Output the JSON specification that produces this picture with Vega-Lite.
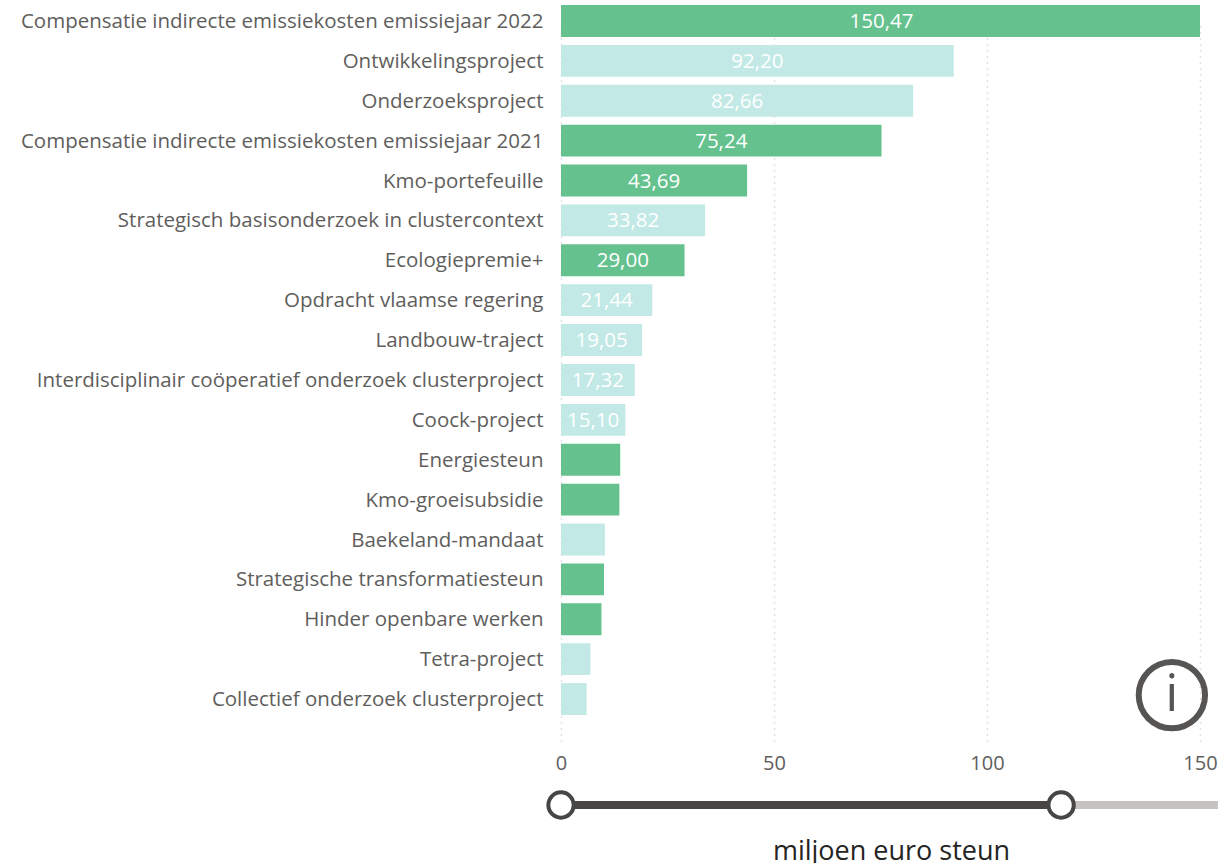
{
"$schema":"https://vega.github.io/schema/vega-lite/v6.json",
"autosize":"none",
"padding":{"left":561,"top":1,"right":18,"bottom":122},
"width":639,"height":740,
"background":"white",
"config":{"view":{"stroke":null},"font":"Open Sans"},
"datasets":{
"rows":[
{"name":"Compensatie indirecte emissiekosten emissiejaar 2022","waarde":150.47,"groep":"A","label":"150,47"},
{"name":"Ontwikkelingsproject","waarde":92.2,"groep":"B","label":"92,20"},
{"name":"Onderzoeksproject","waarde":82.66,"groep":"B","label":"82,66"},
{"name":"Compensatie indirecte emissiekosten emissiejaar 2021","waarde":75.24,"groep":"A","label":"75,24"},
{"name":"Kmo-portefeuille","waarde":43.69,"groep":"A","label":"43,69"},
{"name":"Strategisch basisonderzoek in clustercontext","waarde":33.82,"groep":"B","label":"33,82"},
{"name":"Ecologiepremie+","waarde":29.0,"groep":"A","label":"29,00"},
{"name":"Opdracht vlaamse regering","waarde":21.44,"groep":"B","label":"21,44"},
{"name":"Landbouw-traject","waarde":19.05,"groep":"B","label":"19,05"},
{"name":"Interdisciplinair coöperatief onderzoek clusterproject","waarde":17.32,"groep":"B","label":"17,32"},
{"name":"Coock-project","waarde":15.1,"groep":"B","label":"15,10"},
{"name":"Energiesteun","waarde":13.9,"groep":"A","label":""},
{"name":"Kmo-groeisubsidie","waarde":13.7,"groep":"A","label":""},
{"name":"Baekeland-mandaat","waarde":10.3,"groep":"B","label":""},
{"name":"Strategische transformatiesteun","waarde":10.1,"groep":"A","label":""},
{"name":"Hinder openbare werken","waarde":9.5,"groep":"A","label":""},
{"name":"Tetra-project","waarde":6.9,"groep":"B","label":""},
{"name":"Collectief onderzoek clusterproject","waarde":6.0,"groep":"B","label":""}
],
"slider":[
{"van":0,"tot":117.4,"deel":"actief"},
{"van":117.4,"tot":154.2,"deel":"rest"}
],
"handles":[{"pos":0},{"pos":117.4}],
"info":[{"name":"Collectief onderzoek clusterproject","pos":143.4,"teken":"i"}]
},
"layer":[
{"layer":[
{"data":{"name":"rows"},
"mark":{"type":"bar","cornerRadius":0,"clip":true},
"encoding":{
"y":{"field":"name","type":"nominal","sort":null,
"scale":{"range":[0,718],"paddingInner":0.2,"paddingOuter":0.1},
"axis":{"title":null,"ticks":false,"domain":false,"grid":false,"labelPadding":18,"labelLimit":560,"labelFontSize":20.5,"labelColor":"#605e5c","labelFont":"Open Sans","labelOffset":1}},
"x":{"field":"waarde","type":"quantitative",
"scale":{"domain":[0,150],"nice":false},
"axis":{"values":[0,50,100,150],"title":"miljoen euro steun","titleFontSize":27,"titleFontWeight":"normal","titleColor":"#252423","titleX":330,"titleY":97,"titleFont":"Open Sans","labelFontSize":20,"labelColor":"#605e5c","labelPadding":12,"ticks":false,"domain":false,"grid":true,"gridColor":"#c8c6c4","gridDash":[1,5],"gridWidth":1.5,"labelFlush":false,"labelFont":"Open Sans"}},
"color":{"field":"groep","type":"nominal","legend":null,"scale":{"domain":["A","B"],"range":["#65c28f","#c2e9e5"]}}
}},
{"data":{"name":"rows"},
"mark":{"type":"text","color":"white","fontSize":20.5,"align":"center","baseline":"middle","yOffset":1,"xOffset":{"expr":"-width*datum.waarde/150/2"}},
"encoding":{
"y":{"field":"name","type":"nominal","sort":null},
"x":{"field":"waarde","type":"quantitative"},
"text":{"field":"label","type":"nominal"}
}},
{"data":{"name":"info"},
"mark":{"type":"point","filled":false,"color":"#565553","strokeWidth":6,"size":4400,"yOffset":-4,"opacity":1},
"encoding":{
"y":{"field":"name","type":"nominal","sort":null},
"x":{"field":"pos","type":"quantitative"}
}},
{"data":{"name":"info"},
"mark":{"type":"text","color":"#565553","fontSize":52,"align":"center","baseline":"middle","yOffset":-4,"font":"Open Sans"},
"encoding":{
"y":{"field":"name","type":"nominal","sort":null},
"x":{"field":"pos","type":"quantitative"},
"text":{"field":"teken","type":"nominal"}
}}
]},
{"layer":[
{"data":{"name":"slider"},
"mark":{"type":"rule","strokeWidth":8},
"encoding":{
"x":{"field":"van","type":"quantitative"},
"x2":{"field":"tot"},
"y":{"datum":0,"type":"quantitative","scale":{"domain":[0,1],"range":[804,804]},"axis":null},
"color":{"field":"deel","type":"nominal","legend":null,"scale":{"domain":["actief","rest"],"range":["#474645","#c4c3c1"]}}
}},
{"data":{"name":"handles"},
"mark":{"type":"point","filled":true,"fill":"white","stroke":"#474645","strokeWidth":4,"size":640,"opacity":1},
"encoding":{
"x":{"field":"pos","type":"quantitative"},
"y":{"datum":0,"type":"quantitative","scale":{"domain":[0,1],"range":[804,804]},"axis":null}
}}
]}
],
"resolve":{"scale":{"y":"independent","color":"independent"},"axis":{"y":"independent"}}
}
